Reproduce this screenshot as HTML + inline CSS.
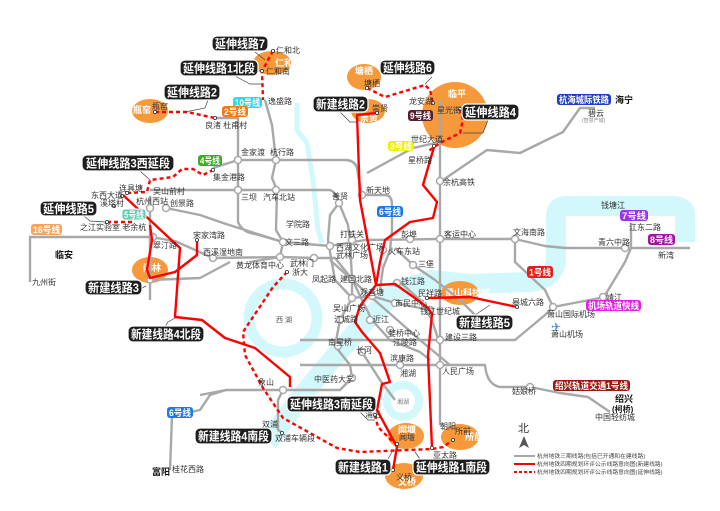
<!DOCTYPE html>
<html><head><meta charset="utf-8"><style>
html,body{margin:0;padding:0;background:#fff;}
svg{display:block;font-family:"Liberation Sans","Noto Sans CJK SC",sans-serif;}
.st{font-size:8px;fill:#333;}
.lb rect{fill:#1e1e1e;stroke:#fff;stroke-width:1.2;}
.lb text{fill:#fff;font-weight:bold;font-size:12px;}
.tg text{fill:#fff;font-weight:bold;font-size:9px;}
.g{fill:none;stroke:#a8a8a8;stroke-width:2.4;stroke-linejoin:round;}
.r{fill:none;stroke:#f00;stroke-width:2.4;stroke-linejoin:round;}
.d{fill:none;stroke:#f00;stroke-width:2.4;stroke-dasharray:4 3;}
.o{fill:#f6993a;}
.ow{fill:#fff;font-size:9px;font-weight:bold;}
.x{fill:#fff;stroke:#a8a8a8;stroke-width:1.5;}
.ld{fill:none;stroke:#444;stroke-width:0.7;}
</style></head><body>
<svg width="720" height="511" viewBox="0 0 720 511" xmlns="http://www.w3.org/2000/svg">
<!-- water -->
<path d="M297,103 L297,130 L307,143 L313,180 L318,230 L322,243" fill="none" stroke="#d2f8fb" stroke-width="5"/>
<path d="M685,242 L685,212 Q682,206 672,206 L566,206 Q556,206 556,216 L556,262 Q552,280 530,282 L470,284 L430,280 L395,292 L365,322 L330,362 L300,398 L268,442" fill="none" stroke="#d2f8fb" stroke-width="20" stroke-linejoin="round"/>
<circle cx="283" cy="318" r="34" fill="none" stroke="#d2f8fb" stroke-width="11"/>
<circle cx="403" cy="401" r="16" fill="none" stroke="#d2f8fb" stroke-width="8"/>
<text x="276" y="322" class="st" style="font-size:7px;fill:#555">西 湖</text>
<text x="397" y="404" class="st" style="font-size:6px;fill:#777">湘湖</text>
<text x="601" y="208" class="st">钱塘江</text>

<!-- orange areas -->
<ellipse class="o" cx="272" cy="63" rx="19" ry="12"/>
<ellipse class="o" cx="150" cy="111" rx="18" ry="12"/>
<ellipse class="o" cx="364" cy="77" rx="17" ry="13"/>
<ellipse class="o" cx="368" cy="111" rx="17" ry="12"/>
<circle class="o" cx="455" cy="115" r="33"/>
<ellipse class="o" cx="150" cy="270" rx="18" ry="13"/>
<ellipse class="o" cx="460" cy="293" rx="19" ry="12"/>
<ellipse class="o" cx="406" cy="436" rx="18" ry="13"/>
<ellipse class="o" cx="460" cy="437" rx="19" ry="13"/>
<ellipse class="o" cx="404" cy="476" rx="19" ry="13"/>
<text class="ow" x="275" y="66">仁和</text>
<text class="ow" x="133" y="113">瓶窑</text>
<text class="ow" x="355" y="74">塘栖</text>
<text class="ow" x="360" y="121">崇贤</text>
<text class="ow" x="448" y="97">临平</text>
<text class="ow" x="143" y="271">闲林</text>
<text class="ow" x="445" y="296">萧山科技城</text>
<text class="ow" x="398" y="433">闻堰</text>
<text class="ow" x="465" y="440">所前</text>
<text class="ow" x="398" y="485">文桥</text>

<!-- grey network -->
<path class="g" d="M215,118 L238,118 L238,222 Q242,232 255,234 L283,242 L330,246 L365,240 L440,239 L515,239 L545,246 L565,248 L625,248 L690,248"/>
<path class="g" d="M213,168 L238,160 L345,160 Q358,160 358,175 L362,195 L385,195 Q392,195 392,205 L392,230 L390,250 L383,268 L380,290"/>
<path class="g" d="M150,190 L330,190 Q336,192 339,203 L330,215 L328,240 L330,252 L335,280 L352,298 L372,296 L395,303 L430,310"/>
<path class="g" d="M265,100 L272,125 L276,160 L272,178 L277,190 L276,230 L283,242 L280,257 L250,262"/>
<path class="g" d="M30,282 L30,237 L150,237 L175,241 L213,258 L280,257 L314,258 L335,258 L352,279 L352,298 L340,320 L335,346 L350,365 L352,378"/>
<path class="g" d="M150,196 L150,300 M166,208 L200,215 L226,224 L283,242"/>
<path class="g" d="M150,280 L200,278 L230,262"/>
<path class="g" d="M339,203 L348,225 L350,240 L352,279 L362,300 L372,320 L390,340 L420,352 L430,360"/>
<path class="g" d="M395,248 L413,265 L435,280 L460,300 L480,320"/>
<path class="g" d="M330,260 L370,296 L395,318 L420,340 L450,365"/>
<path class="g" d="M440,100 L440,425"/>
<path class="g" d="M367,173 L413,148 L440,142"/>
<path class="g" d="M440,182 L487,150 L520,153 L563,132 L580,108 L595,108"/>
<path class="g" d="M300,340 L380,340 L515,340 L545,315 L553,307 L600,298 L604,297"/>
<path class="g" d="M515,239 L515,262 L545,290 L553,307 M604,297 L625,262 L631,248 L631,223"/>
<path class="g" d="M300,365 L485,365 Q487,385 500,387 L530,387 L560,393 L588,397 L610,412"/>
<path class="g" d="M200,395 L226,390 L283,390 L340,390 L352,378 M283,390 L278,400 L278,430 L283,433"/>
<path class="g" d="M226,390 L210,395 L200,410 L172,416 L170,470"/>
<path class="g" d="M400,282 L420,300 L432,320 L440,345"/>
<path class="g" d="M362,352 L380,380 L395,400"/>

<!-- interchange markers -->
<g>
<circle class="x" cx="238" cy="160" r="3.5"/><circle class="x" cx="276" cy="160" r="3.5"/>
<circle class="x" cx="238" cy="190" r="3.5"/><circle class="x" cx="276" cy="190" r="3.5"/>
<circle class="x" cx="150" cy="208" r="3.5"/><circle class="x" cx="166" cy="208" r="3.5"/>
<circle class="x" cx="153" cy="237" r="3.5"/><circle class="x" cx="213" cy="258" r="3.5"/>
<circle class="x" cx="280" cy="257" r="3.5"/><circle class="x" cx="283" cy="242" r="3.5"/>
<circle class="x" cx="314" cy="258" r="3.5"/><circle class="x" cx="339" cy="203" r="3.5"/>
<circle class="x" cx="362" cy="195" r="3.5"/><circle class="x" cx="330" cy="246" r="3.5"/>
<circle class="x" cx="352" cy="240" r="3.5"/><circle class="x" cx="383" cy="250" r="3.5"/>
<circle class="x" cx="410" cy="239" r="3.5"/><circle class="x" cx="440" cy="239" r="3.5"/>
<circle class="x" cx="515" cy="239" r="3.5"/><circle class="x" cx="625" cy="248" r="3.5"/>
<circle class="x" cx="440" cy="181" r="3.5"/><circle class="x" cx="413" cy="265" r="3.5"/>
<circle class="x" cx="397" cy="283" r="3.5"/><circle class="x" cx="352" cy="279" r="3.5"/>
<circle class="x" cx="372" cy="296" r="3.5"/><circle class="x" cx="352" cy="298" r="3.5"/>
<circle class="x" cx="395" cy="303" r="3.5"/><circle class="x" cx="430" cy="310" r="3.5"/>
<circle class="x" cx="370" cy="320" r="3.5"/><circle class="x" cx="340" cy="320" r="3.5"/>
<circle class="x" cx="390" cy="330" r="3.5"/><circle class="x" cx="440" cy="340" r="3.5"/>
<circle class="x" cx="338" cy="346" r="3.5"/><circle class="x" cx="362" cy="352" r="3.5"/>
<circle class="x" cx="400" cy="365" r="3.5"/><circle class="x" cx="440" cy="365" r="3.5"/>
<circle class="x" cx="352" cy="378" r="3.5"/><circle class="x" cx="283" cy="390" r="3.5"/>
<circle class="x" cx="530" cy="387" r="3.5"/><circle class="x" cx="553" cy="307" r="3.5"/>
<circle class="x" cx="603" cy="297" r="3.5"/><circle class="x" cx="150" cy="280" r="3"/>
</g>

<!-- red new lines -->
<path class="r" d="M377,113 L357,115 L360,200 L376,285 L395,284 L412,296 L427,307 L432,314 L428,355 L432,448"/>
<path class="r" d="M434,147 L423,185 L437,202 L433,218 L410,222 L385,240 L380,262 L376,285 L360,306 L355,322 L362,332 L380,353 L390,382 L382,384 L377,410 L397,447 L393,470"/>
<path class="r" d="M427,298 L470,297 L517,307"/>
<path class="r" d="M123,195 L180,248 L175,317 L202,320 L225,338 L255,348 L290,377 L290,387"/>
<path class="r" d="M150,225 L152,240 L147,270 L150,278 L175,272 L188,262 L197,255 L197,240"/>

<!-- red dashed extensions -->
<path class="d" d="M273,51 L262,71 L263,100"/>
<path class="d" d="M155,112 L187,112 L215,118"/>
<path class="d" d="M127,193 L147,192 L150,180 L173,177 L182,169 L193,169 L203,175 L213,170"/>
<path class="d" d="M107,222 L133,222"/>
<path class="d" d="M367,88 L385,97 L425,85 L430,90 L433,103"/>
<path class="d" d="M460,109 L463,120 L460,133 L440,143 L427,152"/>
<path class="d" d="M287,272 L273,287 L243,332 L245,355 L263,388 L283,418 L337,448 L360,452 L432,449 L443,447 L453,440"/>
<path class="d" d="M375,415 L378,427 L393,442"/>

<!-- station dots -->
<g fill="#fff" stroke="#333" stroke-width="0.8">
<circle cx="273" cy="51" r="1.6"/><circle cx="262" cy="71" r="1.6"/><circle cx="155" cy="112" r="1.6"/>
<circle cx="215" cy="118" r="1.6"/><circle cx="127" cy="193" r="1.6"/><circle cx="122" cy="196" r="1.6"/>
<circle cx="114" cy="206" r="1.6"/><circle cx="107" cy="222" r="1.6"/><circle cx="213" cy="170" r="1.6"/>
<circle cx="367" cy="88" r="1.6"/><circle cx="377" cy="113" r="1.6"/><circle cx="433" cy="103" r="1.6"/>
<circle cx="460" cy="109" r="1.6"/><circle cx="434" cy="146" r="1.6"/><circle cx="287" cy="272" r="1.6"/>
<circle cx="197" cy="240" r="1.6"/><circle cx="517" cy="307" r="1.6"/><circle cx="427" cy="298" r="1.6"/>
<circle cx="375" cy="415" r="1.6"/><circle cx="397" cy="444" r="1.6"/><circle cx="393" cy="470" r="1.6"/>
<circle cx="432" cy="448" r="1.6"/><circle cx="453" cy="440" r="1.6"/><circle cx="282" cy="433" r="1.6"/>
</g>

<!-- station labels -->
<g class="st">
<text x="276" y="53">仁和北</text><text x="266" y="74">仁和南</text><text x="268" y="104">逸盛路</text>
<text x="152" y="109">瓶窑</text><text x="205" y="128">良渚 杜甫村</text>
<text x="241" y="155">金家渡</text><text x="270" y="155">杭行路</text><text x="213" y="180">集金港路</text>
<text x="119" y="191">连具塘</text><text x="153" y="194">吴山前村</text><text x="241" y="200">三坝</text>
<text x="263" y="200">汽车北站</text><text x="91" y="198">东西大道</text><text x="100" y="206">溪塔村</text>
<text x="136" y="204">杭州西站</text><text x="170" y="206">创景路</text>
<text x="80" y="230">之江实验室 老余杭</text><text x="153" y="248">翠汀路</text>
<text x="193" y="238">宋家湾路</text><text x="203" y="255">西溪湿地南</text><text x="236" y="268">黄龙体育中心</text>
<text x="286" y="227">学院路</text><text x="285" y="245">文三路</text><text x="290" y="266">武林门</text>
<text x="292" y="275">浙大</text><text x="312" y="282">凤起路</text><text x="340" y="282">建国北路</text>
<text x="336" y="250">西湖文化广场</text><text x="336" y="258">武林广场</text><text x="340" y="237">打铁关</text>
<text x="332" y="199">善贤</text><text x="366" y="193">新天地</text><text x="388" y="254">火车东站</text>
<text x="401" y="237">彭埠</text><text x="444" y="237">客运中心</text><text x="513" y="235">文海南路</text>
<text x="443" y="185">余杭高铁</text><text x="408" y="163">星桥路</text><text x="411" y="142">世纪大道</text>
<text x="409" y="104">龙安湖</text><text x="437" y="113">星光街</text><text x="364" y="86">塘栖</text>
<text x="372" y="111">崇贤</text>
<text x="418" y="267">三堡</text><text x="401" y="284">钱江路</text><text x="418" y="296">民祥路</text>
<text x="420" y="314">钱江世纪城</text><text x="360" y="295">观音塘</text><text x="395" y="306">市民中心</text>
<text x="333" y="311">吴山广场</text><text x="334" y="322">江城路</text><text x="373" y="322">近江</text>
<text x="388" y="336">婺桥中心</text><text x="393" y="345">江陵路</text><text x="328" y="345">南星桥</text>
<text x="356" y="353">长河</text><text x="390" y="361">滨康路</text><text x="400" y="376">湘湖</text>
<text x="445" y="340">建设三路</text><text x="442" y="374">人民广场</text><text x="440" y="429">朝阳</text>
<text x="433" y="458">亚太路</text><text x="455" y="434">所前</text><text x="396" y="480">义桥</text>
<text x="399" y="440">闻堰</text><text x="365" y="417">浦沿</text>
<text x="314" y="382">中医药大学</text><text x="258" y="385">象山</text><text x="262" y="427">双浦</text>
<text x="275" y="441">双浦车辆段</text><text x="172" y="472">桂花西路</text><text x="32" y="285">九州街</text>
<text x="512" y="305">皋城六路</text><text x="547" y="317">萧山国际机场</text><text x="551" y="337">萧山机场</text>
<text x="606" y="300">靖江</text><text x="512" y="394">姑娘桥</text><text x="595" y="420">中国轻纺城</text>
<text x="629" y="230">江东二路</text><text x="598" y="245">青六中路</text><text x="658" y="258">新湾</text>
<text x="588" y="116">碧云</text><text x="582" y="122" style="font-size:5px;fill:#888">(智慧产城)</text>
</g>
<text x="551" y="331" font-size="12" fill="#4a8fe0">✈</text>
<g font-weight="bold" font-size="9" fill="#111">
<text x="55" y="258">临安</text><text x="152" y="475">富阳</text><text x="615" y="103">海宁</text>
<text x="615" y="402">绍兴</text><text x="612" y="412" font-size="8">(柯桥)</text>
</g>

<!-- leader lines -->
<g class="ld">
<path d="M255,52 L265,60"/><path d="M235,76 L250,84 L262,84"/><path d="M208,100 L205,108 L185,112"/>
<path d="M140,171 L150,180"/><path d="M84,216 L90,221 L106,222"/><path d="M130,294 L146,286"/>
<path d="M165,327 L168,322 L175,318"/><path d="M340,112 L350,122 L357,122"/><path d="M432,77 L425,84"/>
<path d="M488,120 L483,133 L463,133"/><path d="M360,412 L368,420 L375,420"/><path d="M475,315 L490,305"/>
<path d="M420,459 L415,452"/><path d="M388,459 L392,452"/>
</g>

<!-- black labels -->
<g class="lb">
<rect x="212" y="36" width="56" height="15" rx="5"/><text x="215" y="48" textLength="50" lengthAdjust="spacingAndGlyphs">延伸线路7</text>
<rect x="180" y="60" width="78" height="16" rx="5"/><text x="183" y="72.5" textLength="72" lengthAdjust="spacingAndGlyphs">延伸线路1北段</text>
<rect x="164" y="84" width="56" height="16" rx="5"/><text x="167" y="96.5" textLength="50" lengthAdjust="spacingAndGlyphs">延伸线路2</text>
<rect x="82" y="155" width="92" height="16" rx="5"/><text x="86" y="167.5" textLength="84" lengthAdjust="spacingAndGlyphs">延伸线路3西延段</text>
<rect x="40" y="201" width="57" height="15" rx="5"/><text x="43" y="213" textLength="51" lengthAdjust="spacingAndGlyphs">延伸线路5</text>
<rect x="85" y="280" width="57" height="15" rx="5"/><text x="88" y="292" textLength="51" lengthAdjust="spacingAndGlyphs">新建线路3</text>
<rect x="128" y="326" width="76" height="16" rx="5"/><text x="131" y="338.5" textLength="70" lengthAdjust="spacingAndGlyphs">新建线路4北段</text>
<rect x="195" y="428" width="77" height="16" rx="5"/><text x="198" y="440.5" textLength="71" lengthAdjust="spacingAndGlyphs">新建线路4南段</text>
<rect x="287" y="396" width="89" height="16" rx="5"/><text x="290" y="408.5" textLength="83" lengthAdjust="spacingAndGlyphs">延伸线路3南延段</text>
<rect x="335" y="459" width="56" height="16" rx="5"/><text x="338" y="471.5" textLength="50" lengthAdjust="spacingAndGlyphs">新建线路1</text>
<rect x="413" y="459" width="77" height="16" rx="5"/><text x="416" y="471.5" textLength="71" lengthAdjust="spacingAndGlyphs">延伸线路1南段</text>
<rect x="456" y="315" width="57" height="15" rx="5"/><text x="459" y="327" textLength="51" lengthAdjust="spacingAndGlyphs">新建线路5</text>
<rect x="462" y="104" width="57" height="16" rx="5"/><text x="465" y="116.5" textLength="51" lengthAdjust="spacingAndGlyphs">延伸线路4</text>
<rect x="380" y="60" width="55" height="15" rx="5"/><text x="383" y="72" textLength="49" lengthAdjust="spacingAndGlyphs">延伸线路6</text>
<rect x="313" y="96" width="55" height="16" rx="5"/><text x="316" y="108.5" textLength="49" lengthAdjust="spacingAndGlyphs">新建线路2</text>
</g>

<!-- line tags -->
<g class="tg">
<rect x="233" y="97" width="29" height="11" rx="3" fill="#35d8ea"/><text x="235" y="106" textLength="25" lengthAdjust="spacingAndGlyphs">10号线</text>
<rect x="222" y="106" width="26" height="11" rx="3" fill="#f07a16"/><text x="224" y="115" textLength="22" lengthAdjust="spacingAndGlyphs">2号线</text>
<rect x="198" y="155" width="24" height="11" rx="3" fill="#3aac1e"/><text x="200" y="164" textLength="20" lengthAdjust="spacingAndGlyphs">4号线</text>
<rect x="122" y="209" width="24" height="11" rx="3" fill="#5ccfb0" stroke="#fff"/><text x="124" y="218" textLength="20" lengthAdjust="spacingAndGlyphs">5号线</text>
<rect x="31" y="224" width="31" height="11" rx="3" fill="#f6a460"/><text x="33" y="233" textLength="27" lengthAdjust="spacingAndGlyphs">16号线</text>
<rect x="377" y="206" width="26" height="11" rx="3" fill="#2277e6"/><text x="379" y="215" textLength="22" lengthAdjust="spacingAndGlyphs">6号线</text>
<rect x="167" y="407" width="26" height="11" rx="3" fill="#2277e6"/><text x="169" y="416" textLength="22" lengthAdjust="spacingAndGlyphs">6号线</text>
<rect x="388" y="141" width="26" height="10" rx="3" fill="#eef000"/><text x="390" y="149.5" textLength="22" lengthAdjust="spacingAndGlyphs">3号线</text>
<rect x="408" y="110" width="25" height="11" rx="3" fill="#5a1f33"/><text x="410" y="119" textLength="21" lengthAdjust="spacingAndGlyphs">9号线</text>
<rect x="527" y="266" width="26" height="12" rx="3" fill="#e81c1c"/><text x="529" y="275.5" textLength="22" lengthAdjust="spacingAndGlyphs">1号线</text>
<rect x="620" y="210" width="28" height="11" rx="3" fill="#9933ee"/><text x="622" y="219" textLength="24" lengthAdjust="spacingAndGlyphs">7号线</text>
<rect x="648" y="234" width="27" height="11" rx="3" fill="#a3139c"/><text x="650" y="243" textLength="23" lengthAdjust="spacingAndGlyphs">8号线</text>
<rect x="586" y="300" width="55" height="11" rx="3" fill="#e61ee6"/><text x="588" y="309" textLength="51" lengthAdjust="spacingAndGlyphs">机场轨道快线</text>
<rect x="557" y="94" width="54" height="11" rx="3" fill="#1d3fc2"/><text x="559" y="103" textLength="50" lengthAdjust="spacingAndGlyphs">杭海城际铁路</text>
<rect x="553" y="380" width="77" height="11" rx="3" fill="#9c1a12"/><text x="555" y="389" textLength="73" lengthAdjust="spacingAndGlyphs">绍兴轨道交通1号线</text>
</g>

<!-- legend -->
<text x="518" y="432" font-size="11" fill="#333">北</text>
<path d="M524,436 L519,448 L524,445 L529,448 Z" fill="#555"/>
<line x1="514" y1="456" x2="535" y2="456" stroke="#a8a8a8" stroke-width="2"/>
<line x1="514" y1="464" x2="535" y2="464" stroke="#f00" stroke-width="2"/>
<line x1="514" y1="472" x2="535" y2="472" stroke="#f00" stroke-width="2" stroke-dasharray="3 2"/>
<g font-size="5.8" fill="#444">
<text x="537" y="458">杭州地铁三期线路(包括已开通和在建线路)</text>
<text x="537" y="466">杭州地铁四期规划环评公示线路意向图(新建线路)</text>
<text x="537" y="474">杭州地铁四期规划环评公示线路意向图(延伸线路)</text>
</g>
</svg>
</body></html>
